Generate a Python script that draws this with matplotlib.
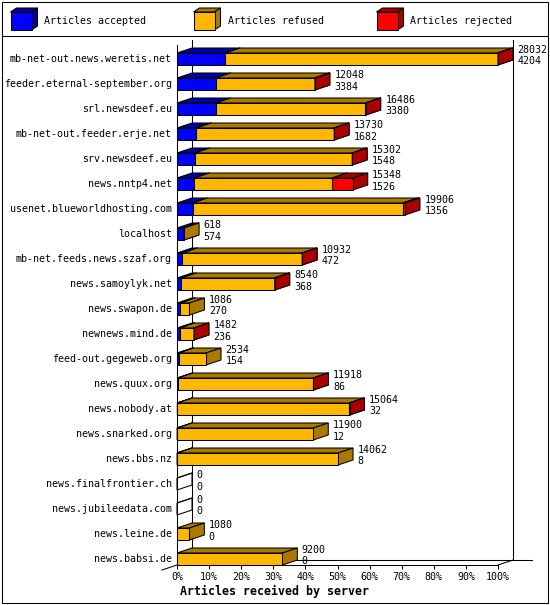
import matplotlib
matplotlib.use("Agg")
import matplotlib.pyplot as plt
from matplotlib.patches import Polygon, Rectangle
import numpy as np

# ---------------- data ----------------
servers = [
    "mb-net-out.news.weretis.net", "feeder.eternal-september.org", "srl.newsdeef.eu",
    "mb-net-out.feeder.erje.net", "srv.newsdeef.eu", "news.nntp4.net",
    "usenet.blueworldhosting.com", "localhost", "mb-net.feeds.news.szaf.org",
    "news.samoylyk.net", "news.swapon.de", "newnews.mind.de", "feed-out.gegeweb.org",
    "news.quux.org", "news.nobody.at", "news.snarked.org", "news.bbs.nz",
    "news.finalfrontier.ch", "news.jubileedata.com", "news.leine.de", "news.babsi.de",
]
offered = [28032, 12048, 16486, 13730, 15302, 15348, 19906, 618, 10932, 8540, 1086,
           1482, 2534, 11918, 15064, 11900, 14062, 0, 0, 1080, 9200]
accepted = [4204, 3384, 3380, 1682, 1548, 1526, 1356, 574, 472, 368, 270,
            236, 154, 86, 32, 12, 8, 0, 0, 0, 0]
rejected = [40, 30, 30, 30, 30, 1800, 180, 0, 20, 20, 0,
            20, 0, 20, 20, 0, 0, 0, 0, 0, 0]
refused = [o - a - r for o, a, r in zip(offered, accepted, rejected)]

series_names = ["Articles accepted", "Articles refused", "Articles rejected"]
front_colors = ["#0000ff", "#ffb700", "#ff0000"]
shade_colors = ["#0000aa", "#aa7a00", "#aa0000"]
x_ticks = list(range(0, 101, 10))
x_tick_labels = [f"{t}%" for t in x_ticks]
x_title = "Articles received by server"

# ---------------- layout ----------------
W, H = 550, 605
MONO = "DejaVu Sans Mono"
FS = 7.2
LW = 0.75

fig = plt.figure(figsize=(W / 100, H / 100), dpi=100)
fig.patch.set_facecolor("white")

# main plotting axes: pixel mapping x_px = 177 + 3.21*pct ; y_px = 40 + 25*y
PX_PER_PCT = 3.21
L_px, R_px, T_px, B_px = 140, 548, 36, 600
ax = fig.add_axes([L_px / W, 1 - B_px / H, (R_px - L_px) / W, (B_px - T_px) / H])
ax.set_xlim((L_px - 177) / PX_PER_PCT, (R_px - 177) / PX_PER_PCT)
ax.set_ylim((B_px - 40) / 25, (T_px - 40) / 25)
ax.patch.set_alpha(0)

DX = 15 / PX_PER_PCT    # depth in percent units
DY = 5 / 25             # depth in row units
n = len(servers)
floor = n               # front floor y
FACE_TOP = 0.52
FACE_BOT = 1.0

# spines / axes lines
for s in ["top", "right"]:
    ax.spines[s].set_visible(False)
ax.spines["bottom"].set_position(("data", floor))
ax.spines["bottom"].set_bounds(0, 100)
ax.spines["left"].set_position(("data", 0))
ax.spines["left"].set_bounds(0.2, floor)
for s in ["bottom", "left"]:
    ax.spines[s].set_linewidth(LW)

ax.set_xticks(x_ticks)
ax.set_xticklabels(x_tick_labels, fontfamily=MONO, fontsize=FS)
ax.tick_params(axis="x", direction="out", length=3, width=LW, pad=2)
ax.set_yticks([i + 0.72 for i in range(n)])
ax.set_yticklabels(servers, fontfamily=MONO, fontsize=FS)
ax.tick_params(axis="y", length=0, pad=3.6)

# back wall lines
ax.plot([DX, DX], [0, floor - DY], color="black", lw=LW, zorder=1)
ax.plot([100 + DX, 100 + DX], [0, floor - DY], color="black", lw=LW, zorder=1)
ax.plot([DX, (532 - 177) / PX_PER_PCT], [floor - DY, floor - DY], color="black", lw=LW, zorder=1)
ax.plot([100, 100 + DX], [floor, floor - DY], color="black", lw=LW, zorder=1)
ax.plot([0, -DX], [floor, floor + DY], color="black", lw=LW, zorder=1, clip_on=False)


def bar3d(x0, x1, yt, yb, fc, sc, fill=True, z=3):
    kw = dict(edgecolor="black", linewidth=LW, zorder=z, joinstyle="miter")
    if not fill:
        kw.update(fill=False)
        fcf = scf = None
    else:
        fcf, scf = fc, sc
    top = Polygon([(x0, yt), (x1, yt), (x1 + DX, yt - DY), (x0 + DX, yt - DY)],
                  closed=True, facecolor=scf, **kw)
    side = Polygon([(x1, yt), (x1, yb), (x1 + DX, yb - DY), (x1 + DX, yt - DY)],
                   closed=True, facecolor=scf, **kw)
    ax.add_patch(top)
    ax.add_patch(side)
    if x1 > x0:
        front = Rectangle((x0, yt), x1 - x0, yb - yt, facecolor=fcf, **kw)
        ax.add_patch(front)


max_total = max(offered)
for i in range(n):
    yt, yb = i + FACE_TOP, i + FACE_BOT
    vals = [accepted[i], refused[i], rejected[i]]
    cum = 0.0
    if offered[i] == 0:
        bar3d(0, 0, yt, yb, None, None, fill=False, z=3 + i)
    else:
        for k, v in enumerate(vals):
            if v <= 0:
                continue
            x0 = cum / max_total * 100
            x1 = (cum + v) / max_total * 100
            bar3d(x0, x1, yt, yb, front_colors[k], shade_colors[k], z=3 + i)
            cum += v
    xend = offered[i] / max_total * 100 + DX + 4.5 / PX_PER_PCT
    ax.text(xend, i + 0.40, str(offered[i]), fontfamily=MONO, fontsize=FS,
            ha="left", va="center", zorder=50)
    ax.text(xend, i + 0.86, str(accepted[i]), fontfamily=MONO, fontsize=FS,
            ha="left", va="center", zorder=50)

# ---------------- decorations (pixel overlay) ----------------
ov = fig.add_axes([0, 0, 1, 1], zorder=-1)
ov.set_xlim(0, W)
ov.set_ylim(H, 0)
ov.axis("off")
ov.add_patch(Rectangle((2, 2), 545.5, 601, fill=False, edgecolor="black", linewidth=LW))
ov.plot([2, 547.5], [36, 36], color="black", lw=LW)

ov2 = fig.add_axes([0, 0, 1, 1], zorder=5)
ov2.set_xlim(0, W)
ov2.set_ylim(H, 0)
ov2.axis("off")
ov2.patch.set_alpha(0)
for k, name in enumerate(series_names):
    bx = 10.5 + 183 * k
    bw, bh, ddx, ddy = 21, 18, 6, 4
    by = 12
    kw = dict(edgecolor="black", linewidth=LW)
    ov2.add_patch(Polygon([(bx, by), (bx + bw, by), (bx + bw + ddx, by - ddy), (bx + ddx, by - ddy)],
                          closed=True, facecolor=shade_colors[k], **kw))
    ov2.add_patch(Polygon([(bx + bw, by), (bx + bw, by + bh), (bx + bw + ddx, by + bh - ddy),
                           (bx + bw + ddx, by - ddy)], closed=True, facecolor=shade_colors[k], **kw))
    ov2.add_patch(Rectangle((bx, by), bw, bh, facecolor=front_colors[k], **kw))
    ov2.text(bx + 34, 21, name, fontfamily=MONO, fontsize=FS, ha="left", va="center")

ov2.text(275, 591.5, x_title, fontfamily=MONO, fontsize=8.4, fontweight="bold",
         ha="center", va="center")

fig.savefig("out.png", dpi=100, facecolor="white")
